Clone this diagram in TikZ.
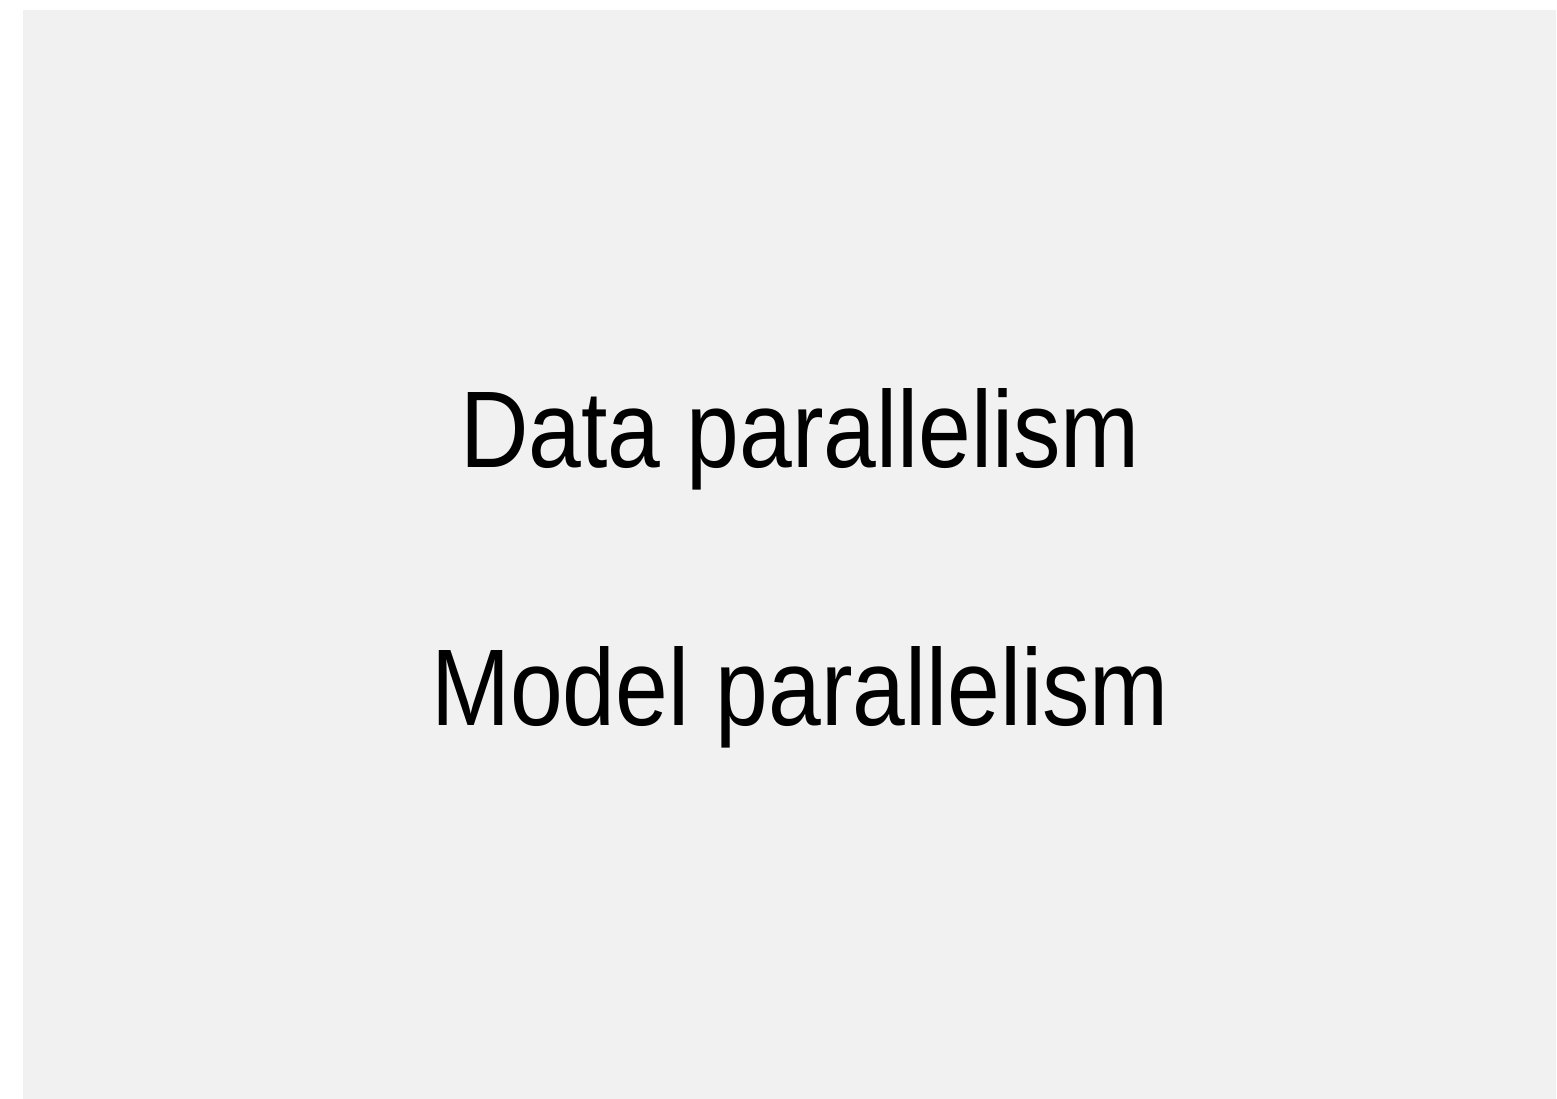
\documentclass[tikz,border=0pt]{standalone}
\usepackage{fontspec}
\setmainfont{Liberation Sans}
\begin{document}
\begin{tikzpicture}[x=1pt,y=-1pt,
  title/.style={font=\fontsize{109}{120}\selectfont, inner sep=0pt, anchor=base, xscale=0.87, text=black}]
\useasboundingbox (0,0) rectangle (1557,1099);
\fill[white] (0,0) rectangle (1557,1099);
\fill[fill={rgb,255:red,241;green,241;blue,241}] (23,10) rectangle (1556,1099);
\node[title] (data) at (800,467) {Data parallelism};
\node[title] (model) at (800,725) {Model parallelism};
\end{tikzpicture}
\end{document}
